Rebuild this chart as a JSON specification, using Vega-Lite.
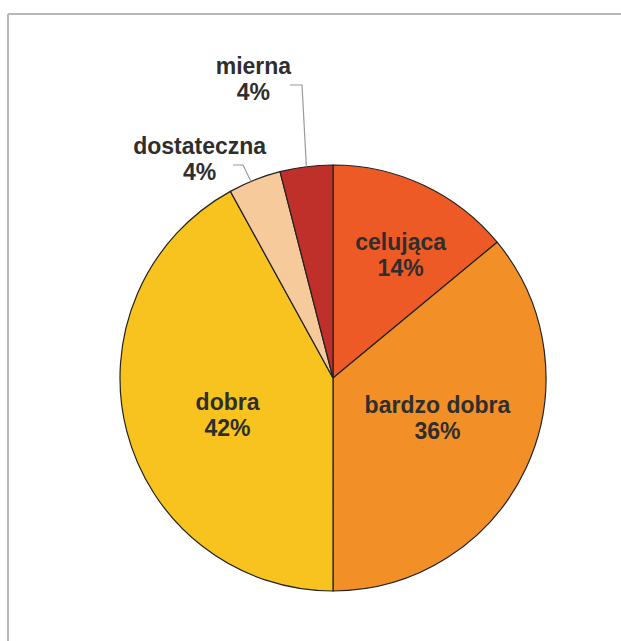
{
  "$schema": "https://vega.github.io/schema/vega-lite/v6.json",
  "width": 613,
  "height": 627,
  "autosize": {"type": "none"},
  "padding": {"left": 8, "top": 14, "right": 0, "bottom": 0},
  "background": "#ffffff",
  "config": {"view": {"stroke": null}, "font": "Liberation Sans"},
  "data": {
    "values": [
      {"grade": "celująca", "value": 14, "order": 1},
      {"grade": "bardzo dobra", "value": 36, "order": 2},
      {"grade": "dobra", "value": 42, "order": 3},
      {"grade": "dostateczna", "value": 4, "order": 4},
      {"grade": "mierna", "value": 4, "order": 5}
    ]
  },
  "layer": [
    {
      "data": {"values": [{}]},
      "mark": {"type": "rule", "stroke": "#b8b8b8", "strokeWidth": 2},
      "encoding": {
        "y": {"datum": 170.89, "type": "quantitative", "scale": {"domain": [-123.47, 170.89], "nice": false, "zero": false}, "axis": null}
      }
    },
    {
      "data": {"values": [{}]},
      "mark": {"type": "rule", "stroke": "#b8b8b8", "strokeWidth": 2},
      "encoding": {
        "x": {"datum": -152.58, "type": "quantitative", "scale": {"domain": [-152.58, 135.21], "nice": false, "zero": false}, "axis": null}
      }
    },
    {
      "mark": {"type": "arc", "outerRadius": 213, "stroke": "#222222", "strokeWidth": 1.2},
      "encoding": {
        "theta": {"field": "value", "type": "quantitative", "stack": true},
        "order": {"field": "order", "type": "quantitative"},
        "color": {
          "field": "grade", "type": "nominal", "legend": null,
          "scale": {
            "domain": ["celująca", "bardzo dobra", "dobra", "dostateczna", "mierna"],
            "range": ["#EE5A25", "#F29027", "#F8C31F", "#F7CA9C", "#BF302B"]
          }
        },
        "x": {"datum": 0, "type": "quantitative", "scale": {"domain": [-152.58, 135.21], "nice": false, "zero": false}, "axis": null},
        "y": {"datum": 0, "type": "quantitative", "scale": {"domain": [-123.47, 170.89], "nice": false, "zero": false}, "axis": null}
      }
    },
    {
      "data": {
        "values": [
          {"leader": "mierna", "i": 1, "u": -20.19, "v": 137.56},
          {"leader": "mierna", "i": 2, "u": -14.55, "v": 137.56},
          {"leader": "mierna", "i": 3, "u": -12.5, "v": 99.2},
          {"leader": "dostateczna", "i": 1, "u": -46.95, "v": 100.0},
          {"leader": "dostateczna", "i": 2, "u": -42.25, "v": 100.0},
          {"leader": "dostateczna", "i": 3, "u": -38.5, "v": 92.3}
        ]
      },
      "mark": {"type": "line", "stroke": "#9a9a9a", "strokeWidth": 1.2},
      "encoding": {
        "x": {"field": "u", "type": "quantitative", "scale": {"domain": [-152.58, 135.21], "nice": false, "zero": false}, "axis": null},
        "y": {"field": "v", "type": "quantitative", "scale": {"domain": [-123.47, 170.89], "nice": false, "zero": false}, "axis": null},
        "detail": {"field": "leader", "type": "nominal"},
        "order": {"field": "i", "type": "quantitative"}
      }
    },
    {
      "transform": [{"calculate": "datum.grade + '\\n' + datum.value + '%'", "as": "label"}],
      "mark": {"type": "text", "radius": 140, "dx": 8, "dy": -8, "fontSize": 23, "fontWeight": "bold", "lineBreak": "\n", "lineHeight": 26, "fill": "#2e2e2e", "align": "center", "baseline": "middle"},
      "encoding": {
        "theta": {"field": "value", "type": "quantitative", "stack": true},
        "order": {"field": "order", "type": "quantitative"},
        "x": {"datum": 0, "type": "quantitative", "scale": {"domain": [-152.58, 135.21], "nice": false, "zero": false}, "axis": null},
        "y": {"datum": 0, "type": "quantitative", "scale": {"domain": [-123.47, 170.89], "nice": false, "zero": false}, "axis": null},
        "text": {"condition": {"test": "datum.grade === 'celująca'", "field": "label"}, "value": ""}
      }
    },
    {
      "transform": [{"calculate": "datum.grade + '\\n' + datum.value + '%'", "as": "label"}],
      "mark": {"type": "text", "radius": 111, "dx": 4, "dy": -19, "fontSize": 23, "fontWeight": "bold", "lineBreak": "\n", "lineHeight": 26, "fill": "#2e2e2e", "align": "center", "baseline": "middle"},
      "encoding": {
        "theta": {"field": "value", "type": "quantitative", "stack": true},
        "order": {"field": "order", "type": "quantitative"},
        "x": {"datum": 0, "type": "quantitative", "scale": {"domain": [-152.58, 135.21], "nice": false, "zero": false}, "axis": null},
        "y": {"datum": 0, "type": "quantitative", "scale": {"domain": [-123.47, 170.89], "nice": false, "zero": false}, "axis": null},
        "text": {"condition": {"test": "datum.grade === 'bardzo dobra'", "field": "label"}, "value": ""}
      }
    },
    {
      "transform": [{"calculate": "datum.grade + '\\n' + datum.value + '%'", "as": "label"}],
      "mark": {"type": "text", "radius": 112, "dx": 3, "dy": -3, "fontSize": 23, "fontWeight": "bold", "lineBreak": "\n", "lineHeight": 26, "fill": "#2e2e2e", "align": "center", "baseline": "middle"},
      "encoding": {
        "theta": {"field": "value", "type": "quantitative", "stack": true},
        "order": {"field": "order", "type": "quantitative"},
        "x": {"datum": 0, "type": "quantitative", "scale": {"domain": [-152.58, 135.21], "nice": false, "zero": false}, "axis": null},
        "y": {"datum": 0, "type": "quantitative", "scale": {"domain": [-123.47, 170.89], "nice": false, "zero": false}, "axis": null},
        "text": {"condition": {"test": "datum.grade === 'dobra'", "field": "label"}, "value": ""}
      }
    },
    {
      "transform": [{"calculate": "datum.grade + '\\n' + datum.value + '%'", "as": "label"}],
      "mark": {"type": "text", "radius": 240, "dx": -45, "dy": -8, "fontSize": 23, "fontWeight": "bold", "lineBreak": "\n", "lineHeight": 26, "fill": "#2e2e2e", "align": "center", "baseline": "middle"},
      "encoding": {
        "theta": {"field": "value", "type": "quantitative", "stack": true},
        "order": {"field": "order", "type": "quantitative"},
        "x": {"datum": 0, "type": "quantitative", "scale": {"domain": [-152.58, 135.21], "nice": false, "zero": false}, "axis": null},
        "y": {"datum": 0, "type": "quantitative", "scale": {"domain": [-123.47, 170.89], "nice": false, "zero": false}, "axis": null},
        "text": {"condition": {"test": "datum.grade === 'dostateczna'", "field": "label"}, "value": ""}
      }
    },
    {
      "transform": [{"calculate": "datum.grade + '\\n' + datum.value + '%'", "as": "label"}],
      "mark": {"type": "text", "radius": 300, "dx": -42, "dy": -13, "fontSize": 23, "fontWeight": "bold", "lineBreak": "\n", "lineHeight": 26, "fill": "#2e2e2e", "align": "center", "baseline": "middle"},
      "encoding": {
        "theta": {"field": "value", "type": "quantitative", "stack": true},
        "order": {"field": "order", "type": "quantitative"},
        "x": {"datum": 0, "type": "quantitative", "scale": {"domain": [-152.58, 135.21], "nice": false, "zero": false}, "axis": null},
        "y": {"datum": 0, "type": "quantitative", "scale": {"domain": [-123.47, 170.89], "nice": false, "zero": false}, "axis": null},
        "text": {"condition": {"test": "datum.grade === 'mierna'", "field": "label"}, "value": ""}
      }
    }
  ]
}
